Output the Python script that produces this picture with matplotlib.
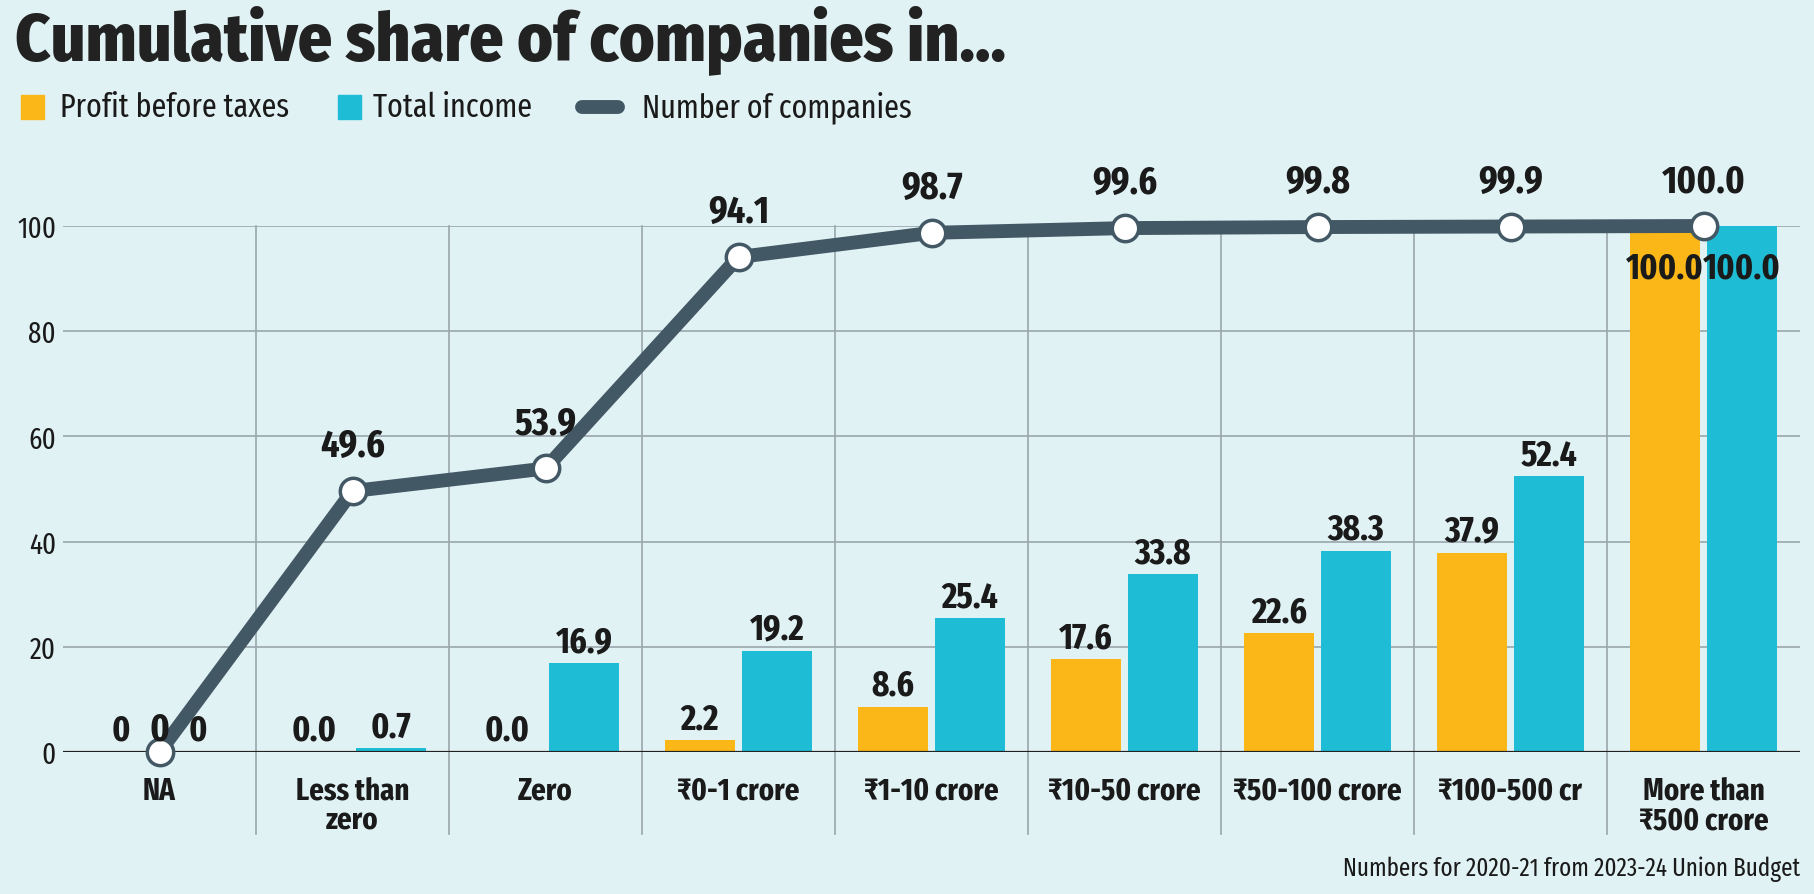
import matplotlib

matplotlib.use("Agg")

import matplotlib.pyplot as plt
import numpy as np
from matplotlib.lines import Line2D
from matplotlib.patches import Rectangle

plt.rcParams["font.family"] = [
    "Fira Sans Extra Condensed",
    "Fira Sans Condensed",
    "Barlow Condensed",
    "DejaVu Sans",
]
TITLE_FONT = ["Fira Sans Condensed", "Fira Sans Extra Condensed", "Barlow Condensed", "DejaVu Sans"]

categories = [
    "NA",
    "Less than\nzero",
    "Zero",
    "₹0-1 crore",
    "₹1-10 crore",
    "₹10-50 crore",
    "₹50-100 crore",
    "₹100-500 cr",
    "More than\n₹500 crore",
]
profit_before_taxes = [0, 0.0, 0.0, 2.2, 8.6, 17.6, 22.6, 37.9, 100.0]
total_income = [0, 0.7, 16.9, 19.2, 25.4, 33.8, 38.3, 52.4, 100.0]
number_of_companies = [0, 49.6, 53.9, 94.1, 98.7, 99.6, 99.8, 99.9, 100.0]

BG = "#e1f2f5"
ORANGE = "#fbb718"
CYAN = "#1fbdd5"
LINE = "#435865"
GRID = "#9aa6ab"
TEXT = "#1a1a1a"

W, H = 1814, 895


def fx(px):
    return px / W


def fy(py):
    return 1 - py / H


def fmt(value, i):
    return "0" if categories[i] == "NA" else f"{value:.1f}"


fig = plt.figure(figsize=(W / 100, H / 100), dpi=100, facecolor=BG)
ax = fig.add_axes([fx(63), fy(753), fx(1800) - fx(63), fy(227) - fy(753)])
ax.set_facecolor(BG)

x = np.arange(len(categories))
width = 0.36
offset = 0.2

pbt_bars = ax.bar(x - offset, profit_before_taxes, width, color=ORANGE, zorder=2)
inc_bars = ax.bar(x + offset, total_income, width, color=CYAN, zorder=2)

for bars, values in ((pbt_bars, profit_before_taxes), (inc_bars, total_income)):
    for i, (bar, v) in enumerate(zip(bars, values)):
        cx = bar.get_x() + bar.get_width() / 2
        if v >= 100:
            ax.annotate(fmt(v, i), (cx, v), xytext=(0, -17), textcoords="offset points",
                        ha="center", va="top", fontsize=26, fontweight="bold", color=TEXT, zorder=6)
        else:
            ax.annotate(fmt(v, i), (cx, v), xytext=(0, 3), textcoords="offset points",
                        ha="center", va="bottom", fontsize=26, fontweight="bold", color=TEXT, zorder=6)

ax.plot(x, number_of_companies, color=LINE, lw=10, solid_capstyle="round", zorder=4, clip_on=False)
ax.plot(x, number_of_companies, "o", ms=19, mfc="white", mec=LINE, mew=2.5, zorder=5, clip_on=False)
for i, v in enumerate(number_of_companies):
    dy = 3 if v == 0 else 19
    ax.annotate(fmt(v, i), (x[i], v), xytext=(0, dy), textcoords="offset points",
                ha="center", va="bottom", fontsize=28, fontweight="bold", color=TEXT, zorder=6)

ax.set_xlim(-0.5, len(categories) - 0.5)
ax.set_ylim(0, 100)
ax.set_yticks(range(0, 101, 20))
ax.tick_params(axis="y", length=0, pad=5, labelsize=21, labelcolor=TEXT)
ax.set_xticks(x, categories)
ax.tick_params(axis="x", length=0, pad=17, labelsize=22.5, labelcolor=TEXT)
for lab in ax.get_xticklabels():
    lab.set_fontweight("bold")
    lab.set_linespacing(1.0)

ax.grid(axis="y", color=GRID, lw=1.2, zorder=0)
ax.set_axisbelow(True)
ax.axhline(0, color="#222222", lw=1.6, zorder=3)
for b in np.arange(0.5, len(categories) - 0.5):
    ax.plot([b, b], [-0.156, 1], transform=ax.get_xaxis_transform(), color=GRID,
            lw=1.2, clip_on=False, zorder=0)
for s in ax.spines.values():
    s.set_visible(False)

# title
fig.text(fx(15), fy(60), "Cumulative share of companies in...", fontsize=48.5,
         fontweight="heavy", family=TITLE_FONT, color="#222222", va="baseline", ha="left")

# legend
fig.add_artist(Rectangle((fx(21), fy(120)), fx(23), 24 / H, transform=fig.transFigure,
                         color=ORANGE))
fig.text(fx(60), fy(108), "Profit before taxes", fontsize=23.5, color=TEXT, va="center")
fig.add_artist(Rectangle((fx(338), fy(120)), fx(23), 24 / H, transform=fig.transFigure,
                         color=CYAN))
fig.text(fx(373), fy(108), "Total income", fontsize=23.5, color=TEXT, va="center")
fig.add_artist(Line2D([fx(582), fx(618)], [fy(108), fy(108)], transform=fig.transFigure,
                      lw=10, color=LINE, solid_capstyle="round"))
fig.text(fx(642), fy(108), "Number of companies", fontsize=23.5, color=TEXT, va="center")

# footer
fig.text(fx(1800), fy(869), "Numbers for 2020-21 from 2023-24 Union Budget", fontsize=18,
         color=TEXT, ha="right", va="center")

fig.savefig("out.png", dpi=100, facecolor=BG)
